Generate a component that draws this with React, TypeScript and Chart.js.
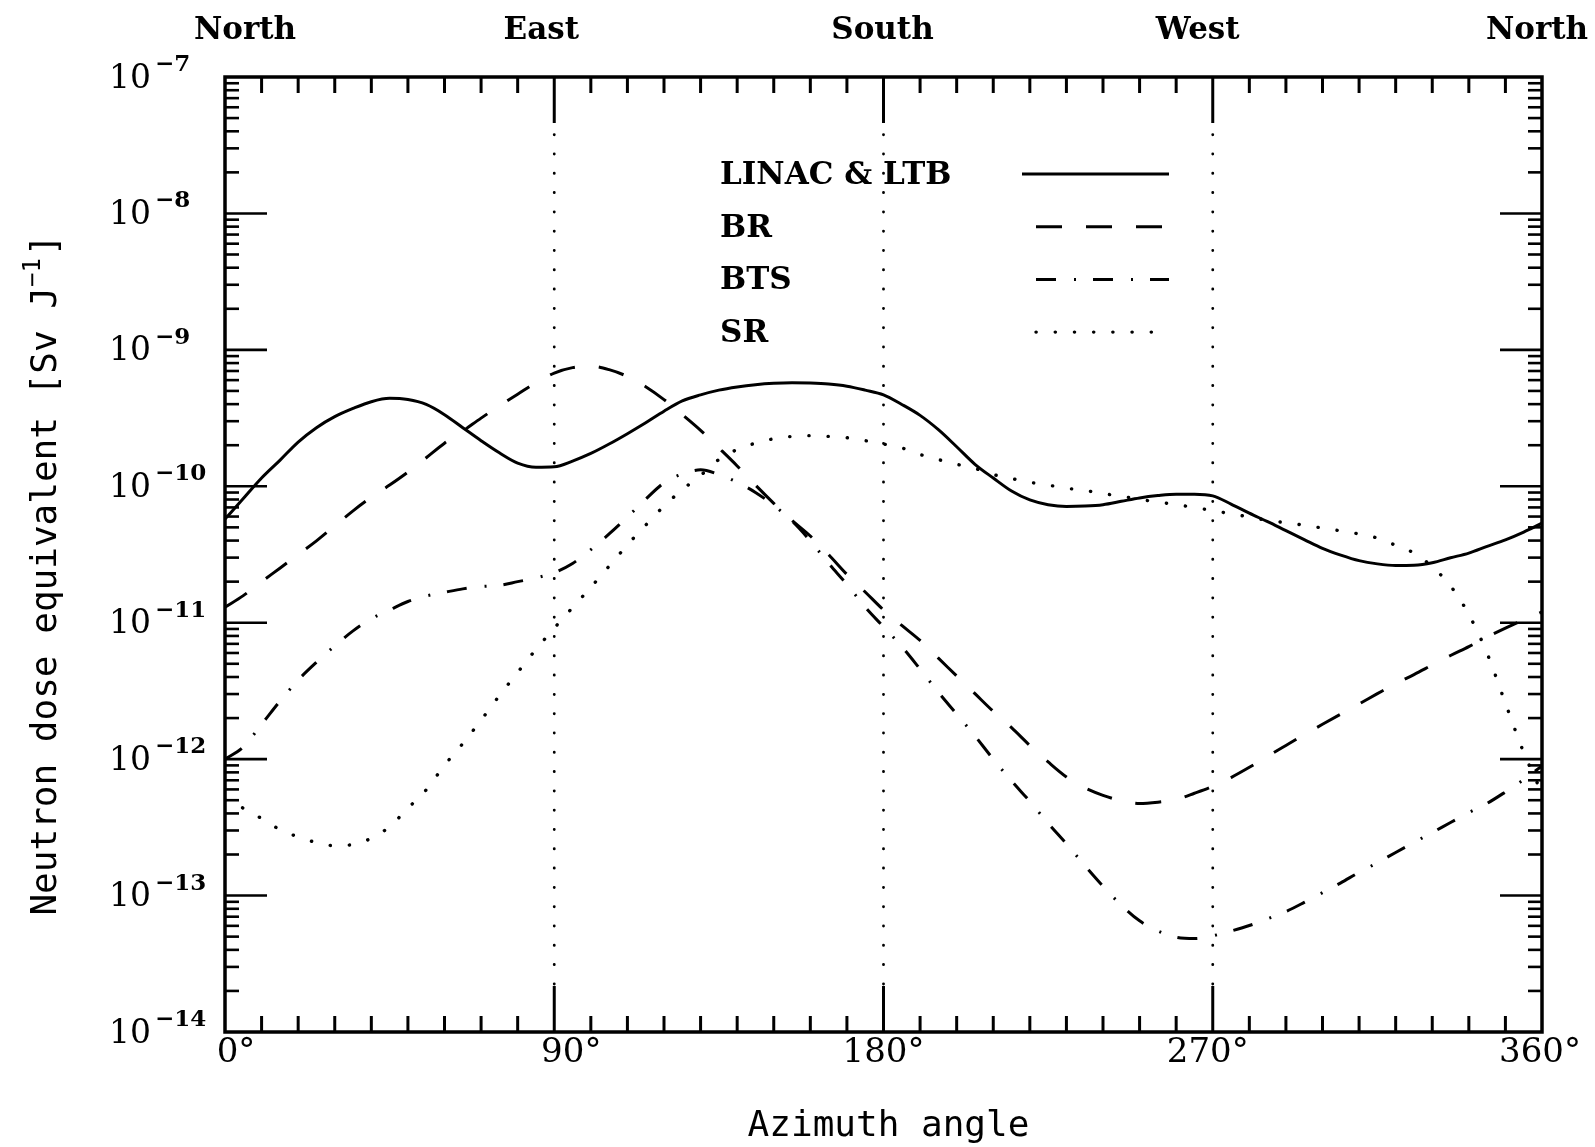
import { useEffect, useRef } from "react";
import { Chart, registerables } from "chart.js";

Chart.register(...registerables);

// ---------- data ----------
const angles = [
  0, 5, 10, 15, 20, 25, 30, 35, 40, 45,
  50, 55, 60, 65, 70, 75, 80, 85, 90, 95,
  100, 105, 110, 115, 120, 125, 130, 135, 140, 145,
  150, 155, 160, 165, 170, 175, 180, 185, 190, 195,
  200, 205, 210, 215, 220, 225, 230, 235, 240, 245,
  250, 255, 260, 265, 270, 275, 280, 285, 290, 295,
  300, 305, 310, 315, 320, 325, 330, 335, 340, 345,
  350, 355, 360,
];

const linacLtb = [
  5.75e-11, 8.13e-11, 1.15e-10, 1.55e-10, 2.11e-10, 2.69e-10, 3.24e-10, 3.72e-10, 4.17e-10, 4.41e-10,
  4.32e-10, 3.98e-10, 3.35e-10, 2.69e-10, 2.16e-10, 1.76e-10, 1.48e-10, 1.38e-10, 1.39e-10, 1.53e-10,
  1.74e-10, 2.04e-10, 2.43e-10, 2.92e-10, 3.55e-10, 4.22e-10, 4.68e-10, 5.07e-10, 5.35e-10, 5.56e-10,
  5.69e-10, 5.74e-10, 5.71e-10, 5.62e-10, 5.42e-10, 5.07e-10, 4.68e-10, 3.98e-10, 3.31e-10, 2.6e-10,
  1.95e-10, 1.45e-10, 1.15e-10, 9.23e-11, 7.94e-11, 7.33e-11, 7.11e-11, 7.16e-11, 7.33e-11, 7.76e-11,
  8.22e-11, 8.55e-11, 8.75e-11, 8.75e-11, 8.51e-11, 7.41e-11, 6.35e-11, 5.5e-11, 4.73e-11, 4.07e-11,
  3.51e-11, 3.13e-11, 2.85e-11, 2.7e-11, 2.63e-11, 2.64e-11, 2.75e-11, 2.99e-11, 3.24e-11, 3.63e-11,
  4.05e-11, 4.62e-11, 5.37e-11,
];

const br = [
  1.3e-11, 1.58e-11, 2.0e-11, 2.51e-11, 3.16e-11, 3.98e-11, 5.13e-11, 6.61e-11, 8.32e-11, 1.02e-10,
  1.27e-10, 1.62e-10, 2.07e-10, 2.54e-10, 3.16e-10, 3.89e-10, 4.73e-10, 5.75e-10, 6.76e-10, 7.41e-10,
  7.59e-10, 7.16e-10, 6.38e-10, 5.37e-10, 4.32e-10, 3.35e-10, 2.57e-10, 1.91e-10, 1.41e-10, 1.02e-10,
  7.5e-11, 5.62e-11, 4.32e-11, 3.16e-11, 2.26e-11, 1.68e-11, 1.24e-11, 9.55e-12, 7.41e-12, 5.5e-12,
  4.07e-12, 3.02e-12, 2.24e-12, 1.7e-12, 1.26e-12, 9.55e-13, 7.41e-13, 6.17e-13, 5.43e-13, 4.95e-13,
  4.73e-13, 4.84e-13, 5.07e-13, 5.62e-13, 6.31e-13, 7.33e-13, 8.71e-13, 1.05e-12, 1.26e-12, 1.51e-12,
  1.8e-12, 2.14e-12, 2.54e-12, 3.02e-12, 3.58e-12, 4.17e-12, 4.9e-12, 5.75e-12, 6.68e-12, 7.85e-12,
  9.12e-12, 1.05e-11, 1.2e-11,
];

const bts = [
  1.0e-12, 1.23e-12, 1.8e-12, 2.66e-12, 3.8e-12, 5.13e-12, 6.76e-12, 8.71e-12, 1.07e-11, 1.24e-11,
  1.43e-11, 1.57e-11, 1.67e-11, 1.77e-11, 1.84e-11, 1.88e-11, 2.0e-11, 2.13e-11, 2.33e-11, 2.72e-11,
  3.43e-11, 4.47e-11, 5.96e-11, 8.04e-11, 1.06e-10, 1.23e-10, 1.32e-10, 1.22e-10, 1.07e-10, 9.02e-11,
  7.24e-11, 5.56e-11, 3.98e-11, 2.72e-11, 1.91e-11, 1.3e-11, 9.33e-12, 6.68e-12, 4.57e-12, 3.09e-12,
  2.14e-12, 1.48e-12, 1.0e-12, 6.92e-13, 4.9e-13, 3.39e-13, 2.4e-13, 1.66e-13, 1.17e-13, 8.51e-14,
  6.53e-14, 5.5e-14, 4.95e-14, 4.84e-14, 5.07e-14, 5.5e-14, 6.03e-14, 6.76e-14, 7.64e-14, 8.91e-14,
  1.05e-13, 1.24e-13, 1.48e-13, 1.74e-13, 2.07e-13, 2.45e-13, 2.9e-13, 3.43e-13, 4.06e-13, 4.74e-13,
  5.75e-13, 7.08e-13, 8.91e-13,
];

const sr = [
  5.01e-13, 4.37e-13, 3.67e-13, 3.05e-13, 2.69e-13, 2.45e-13, 2.32e-13, 2.37e-13, 2.63e-13, 3.2e-13,
  4.37e-13, 5.96e-13, 9.02e-13, 1.3e-12, 1.93e-12, 2.92e-12, 4.32e-12, 6.38e-12, 9.12e-12, 1.29e-11,
  1.82e-11, 2.6e-11, 3.72e-11, 5.19e-11, 7.16e-11, 9.44e-11, 1.2e-10, 1.57e-10, 1.86e-10, 2.07e-10,
  2.23e-10, 2.32e-10, 2.35e-10, 2.32e-10, 2.27e-10, 2.16e-10, 2.04e-10, 1.91e-10, 1.71e-10, 1.57e-10,
  1.45e-10, 1.35e-10, 1.22e-10, 1.14e-10, 1.07e-10, 1.02e-10, 9.68e-11, 9.33e-11, 8.83e-11, 8.47e-11,
  8.02e-11, 7.66e-11, 7.35e-11, 6.98e-11, 6.64e-11, 6.28e-11, 5.96e-11, 5.62e-11, 5.41e-11, 5.18e-11,
  4.94e-11, 4.71e-11, 4.47e-11, 4.17e-11, 3.69e-11, 3.24e-11, 2.57e-11, 1.86e-11, 1.15e-11, 5.96e-12,
  2.57e-12, 1.12e-12, 5.62e-13,
];

const seriesNames = ["LINAC & LTB", "BR", "BTS", "SR"];
const xMajorTicks = [0, 90, 180, 270, 360];
const guideAngles = [90, 180, 270];
const compassLabels = ["North", "East", "South", "West", "North"];
const decadeExponents = [-14, -13, -12, -11, -10, -9, -8, -7];
const xTitle = "Azimuth angle";
const yTitleMain = "Neutron dose equivalent [Sv J";
const yTitleSup = "\u22121";
const yTitleEnd = "]";

// ---------- styles ----------
const SERIF = '"DejaVu Serif", serif';
const MONO = '"DejaVu Sans Mono", monospace';
const compassOffsets = [20, -13, -1, -15, -5];
const xLabelOffsets = [11, 17, 0, -5, -2];

const paperPlugin = {
  id: "paper",
  beforeDraw(chart: any) {
    const { ctx, width, height } = chart;
    ctx.save();
    ctx.fillStyle = "#fff";
    ctx.fillRect(0, 0, width, height);
    ctx.restore();
  },
  afterDatasetsDraw(chart: any) {
    const { ctx, chartArea, scales } = chart;
    const { left, right, top, bottom } = chartArea;
    const xs = scales.x;
    const ys = scales.y;
    const line = (x1: number, y1: number, x2: number, y2: number) => {
      ctx.beginPath();
      ctx.moveTo(x1, y1);
      ctx.lineTo(x2, y2);
      ctx.stroke();
    };
    ctx.save();
    ctx.strokeStyle = "#000";
    ctx.fillStyle = "#000";

    // dotted guide lines
    ctx.lineWidth = 2.8;
    ctx.lineCap = "round";
    ctx.setLineDash([0.2, 19.1]);
    for (const a of guideAngles) {
      const px = xs.getPixelForValue(a);
      line(px, bottom - 48, px, top + 46);
    }
    ctx.setLineDash([]);
    ctx.lineCap = "butt";

    // frame
    ctx.lineWidth = 3.5;
    ctx.strokeRect(left, top, right - left, bottom - top);

    // x ticks (inward, top & bottom)
    ctx.lineWidth = 3;
    for (let a = 10; a < 360; a += 10) {
      const px = xs.getPixelForValue(a);
      const len = a % 90 === 0 ? 46 : 16;
      line(px, bottom, px, bottom - len);
      line(px, top, px, top + len);
    }

    // y ticks (inward, left & right)
    ctx.lineWidth = 2.6;
    for (let e = -14; e < -7; e++) {
      for (let m = 1; m <= 9; m++) {
        if (m === 1 && e === -14) continue;
        const py = ys.getPixelForValue(m * Math.pow(10, e));
        const len = m === 1 ? 42 : 14;
        line(left, py, left + len, py);
        line(right, py, right - len, py);
      }
    }

    // y tick labels 10^n
    ctx.textAlign = "left";
    ctx.textBaseline = "middle";
    for (const e of decadeExponents) {
      const py = ys.getPixelForValue(Math.pow(10, e));
      ctx.font = `33px ${SERIF}`;
      ctx.fillText("10", 109, py + 2);
      const w = ctx.measureText("10").width;
      ctx.font = `bold 23px ${SERIF}`;
      ctx.fillText("\u2212" + Math.abs(e), 109 + w + 4, py - 12);
    }

    // x tick labels
    ctx.font = `34px ${SERIF}`;
    ctx.textAlign = "center";
    xMajorTicks.forEach((a, i) => {
      const px = xs.getPixelForValue(a);
      ctx.fillText(a + "\u00b0", px + xLabelOffsets[i], 1053);
    });

    // compass labels on top
    ctx.font = `bold 31px ${SERIF}`;
    xMajorTicks.forEach((a, i) => {
      const px = xs.getPixelForValue(a);
      ctx.fillText(compassLabels[i], px + compassOffsets[i], 31);
    });

    // x title
    ctx.font = `36px ${MONO}`;
    ctx.fillText(xTitle, (left + right) / 2 + 5, 1127);

    // y title (rotated)
    ctx.save();
    ctx.translate(47, 575);
    ctx.rotate(-Math.PI / 2);
    ctx.textAlign = "left";
    ctx.font = `36px ${MONO}`;
    const wMain = ctx.measureText(yTitleMain).width;
    const wEnd = ctx.measureText(yTitleEnd).width;
    ctx.font = `24px ${MONO}`;
    const wSup = ctx.measureText(yTitleSup).width;
    const total = wMain + wSup + wEnd + 2;
    let cx = -total / 2;
    ctx.font = `36px ${MONO}`;
    ctx.fillText(yTitleMain, cx, 0);
    cx += wMain;
    ctx.font = `24px ${MONO}`;
    ctx.fillText(yTitleSup, cx, -13);
    cx += wSup + 2;
    ctx.font = `36px ${MONO}`;
    ctx.fillText(yTitleEnd, cx, 0);
    ctx.restore();

    // legend
    ctx.textAlign = "left";
    ctx.font = `bold 31px ${SERIF}`;
    chart.data.datasets.forEach((ds: any, i: number) => {
      const ly = 176 + i * 52.7;
      ctx.fillText(ds.label, 720, ly);
      ctx.save();
      ctx.lineWidth = ds.borderWidth;
      ctx.lineCap = ds.borderCapStyle;
      ctx.setLineDash(ds.borderDash || []);
      line(i === 0 ? 1022 : 1036, ly - 2, 1169, ly - 2);
      ctx.restore();
    });

    ctx.restore();
  },
};

export default function App() {
  const ref = useRef<HTMLCanvasElement>(null);

  useEffect(() => {
    document.body.style.margin = "0";
    const canvas = ref.current;
    if (!canvas) return;
    const mk = (label: string, values: number[], dash: number[], cap: string, width: number) => ({
      label,
      data: angles.map((a, i) => ({ x: a, y: values[i] })),
      borderColor: "#000",
      borderWidth: width,
      borderDash: dash,
      borderCapStyle: cap,
      borderJoinStyle: "round",
      pointRadius: 0,
      cubicInterpolationMode: "monotone",
      fill: false,
    });
    const chart = new Chart(canvas, {
      type: "line",
      data: {
        datasets: [
          mk(seriesNames[0], linacLtb, [], "butt", 3),
          mk(seriesNames[1], br, [26, 24], "butt", 3),
          mk(seriesNames[2], bts, [20, 18, 2, 17], "butt", 3),
          mk(seriesNames[3], sr, [0.2, 19], "round", 3.4),
        ] as any,
      },
      options: {
        responsive: false,
        maintainAspectRatio: false,
        animation: false,
        events: [],
        layout: { padding: { left: 225, right: 53, top: 77, bottom: 115 } },
        plugins: { legend: { display: false }, tooltip: { enabled: false } },
        scales: {
          x: { type: "linear", min: 0, max: 360, display: false },
          y: { type: "logarithmic", min: 1e-14, max: 1e-7, display: false },
        },
      } as any,
      plugins: [paperPlugin],
    });
    return () => chart.destroy();
  }, []);

  return (
    <canvas
      ref={ref}
      width={1595}
      height={1147}
      style={{ position: "absolute", left: 0, top: 0, display: "block" }}
    />
  );
}
